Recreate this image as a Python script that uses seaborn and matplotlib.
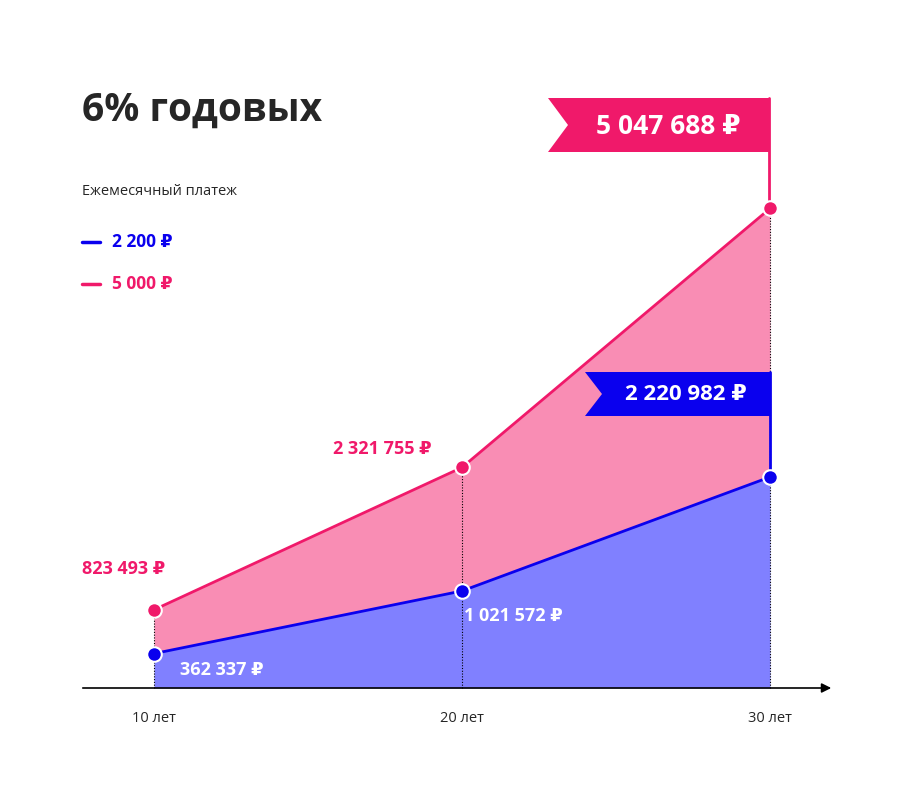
import numpy as np
import pandas as pd
import seaborn as sns
import matplotlib.pyplot as plt
from matplotlib.patches import Polygon

years = [10, 20, 30]
year_labels = ['10 лет', '20 лет', '30 лет']
low_values = [362337, 1021572, 2220982]
high_values = [823493, 2321755, 5047688]
low_labels = ['362 337 ₽', '1 021 572 ₽', '2 220 982 ₽']
high_labels = ['823 493 ₽', '2 321 755 ₽', '5 047 688 ₽']

PINK = '#F0196A'
PINK_FILL = '#F98DB4'
BLUE = '#0A00EE'
BLUE_FILL = '#8080FF'

sns.set_style('white')
plt.rcParams['font.family'] = ['Open Sans', 'DejaVu Sans']

fig = plt.figure(figsize=(9.01, 8.01), dpi=100)
ax = fig.add_axes([0, 0, 1, 1])
# pixel mapping: x=154 -> 10 years, 30.8 px per year; y=688 -> 0, 95 px per million
ax.set_xlim(10 - 154 / 30.8, 10 + 747 / 30.8)
ax.set_ylim(-113 / 95 * 1e6, 688 / 95 * 1e6)
ax.axis('off')


def px(x, y):
    return 10 + (x - 154) / 30.8, (688 - y) / 95 * 1e6


df = pd.DataFrame({'year': years, 'low': low_values, 'high': high_values})

ax.fill_between(df['year'], df['low'], df['high'], color=PINK_FILL, lw=0)
ax.fill_between(df['year'], 0, df['low'], color=BLUE_FILL, lw=0)
for yr, hv in zip(years, high_values):
    ax.plot([yr, yr], [0, hv], color='black', lw=0.8, ls=(0, (1, 1.5)), zorder=2)
sns.lineplot(data=df, x='year', y='high', color=PINK, lw=2, ax=ax, zorder=3)
sns.lineplot(data=df, x='year', y='low', color=BLUE, lw=2, ax=ax, zorder=3)
ax.scatter(years, high_values, s=110, color=PINK, edgecolor='white', lw=1.5, zorder=5)
ax.scatter(years, low_values, s=110, color=BLUE, edgecolor='white', lw=1.5, zorder=5)

# axis with arrow
ax.annotate('', xy=px(834, 688), xytext=px(80, 688),
            arrowprops=dict(arrowstyle='-|>', color='black', lw=1.2, mutation_scale=14))
for yr, lab in zip(years, year_labels):
    ax.text(yr, px(0, 718)[1], lab, ha='center', va='center', fontsize=10.5)

# flags
ax.plot(*zip(px(769, 98), px(769, 210)), color=PINK, lw=2, zorder=4)
ax.add_patch(Polygon([px(548, 98), px(769, 98), px(769, 152), px(548, 152), px(568, 125)],
                     closed=True, color=PINK, lw=0, zorder=4))
ax.text(*px(668, 126), high_labels[2], color='white', fontsize=19, fontweight='bold',
        ha='center', va='center', zorder=6)
ax.plot(*zip(px(770, 372), px(770, 475)), color=BLUE, lw=2, zorder=4)
ax.add_patch(Polygon([px(585, 372), px(771, 372), px(771, 416), px(585, 416), px(602, 394)],
                     closed=True, color=BLUE, lw=0, zorder=4))
ax.text(*px(686, 395), low_labels[2], color='white', fontsize=16, fontweight='bold',
        ha='center', va='center', zorder=6)

# point labels
ax.text(*px(82, 569), high_labels[0], color=PINK, fontsize=13, fontweight='bold', va='center')
ax.text(*px(333, 449), high_labels[1], color=PINK, fontsize=13, fontweight='bold', va='center')
ax.text(*px(180, 670), low_labels[0], color='white', fontsize=13, fontweight='bold', va='center')
ax.text(*px(464, 616), low_labels[1], color='white', fontsize=13, fontweight='bold', va='center')

# title and legend
ax.text(*px(82, 110), '6% годовых', fontsize=28, fontweight='bold', va='center')
ax.text(*px(82, 192), 'Ежемесячный платеж', fontsize=10.5, va='center')
for yy, col, lab in [(242, BLUE, '2 200 ₽'), (284, PINK, '5 000 ₽')]:
    ax.plot(*zip(px(82, yy), px(100, yy)), color=col, lw=2.5)
    ax.text(*px(112, yy), lab, color=col, fontsize=12.5, fontweight='bold', va='center')

fig.savefig('out.png', dpi=100)
